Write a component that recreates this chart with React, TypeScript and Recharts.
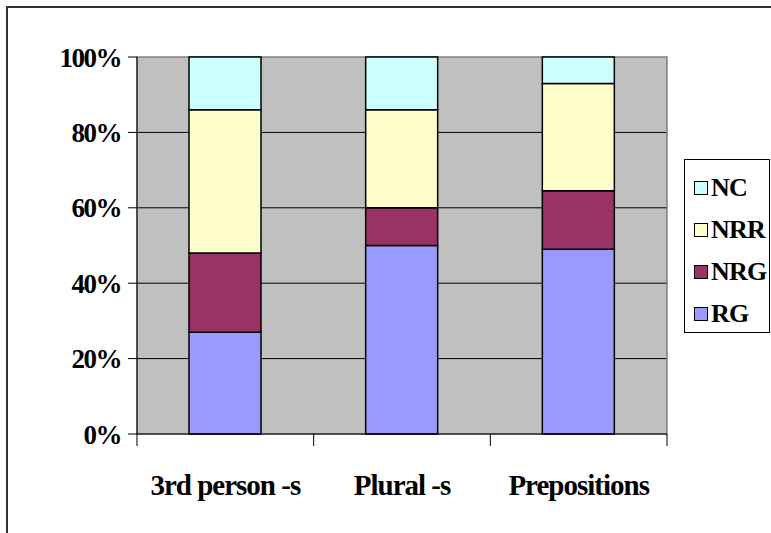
import React from 'react';
import { BarChart, Bar, XAxis, YAxis, CartesianGrid, Legend, ReferenceArea } from 'recharts';

const categories = ['3rd person -s', 'Plural -s', 'Prepositions'];
const rgValues = [27, 50, 49];
const nrgValues = [21, 10, 15.5];
const nrrValues = [38, 26, 28.5];
const ncValues = [14, 14, 7];
const yTicks = [0, 20, 40, 60, 80, 100];
const legendOrder = ['NC', 'NRR', 'NRG', 'RG'];

const series = [
  { key: 'RG', values: rgValues, color: '#9999FF' },
  { key: 'NRG', values: nrgValues, color: '#993366' },
  { key: 'NRR', values: nrrValues, color: '#FFFFCC' },
  { key: 'NC', values: ncValues, color: '#CCFFFF' },
];

const data = categories.map((name, i) => {
  const row: Record<string, string | number> = { name };
  series.forEach((s) => {
    row[s.key] = s.values[i];
  });
  return row;
});

const FONT = '"Liberation Serif", "Times New Roman", serif';

// category label plus tick marks on the band edges (Excel style)
const CategoryTick = (props: any) => {
  const { x, y, payload, index, visibleTicksCount } = props;
  const half = payload?.offset ?? 0;
  const isLast = index === visibleTicksCount - 1;
  return (
    <g>
      <line x1={x - half} x2={x - half} y1={y} y2={y + 12} stroke="#000" />
      {isLast && <line x1={x + half} x2={x + half} y1={y} y2={y + 12} stroke="#000" />}
      <text
        x={x}
        y={y + 61}
        textAnchor="middle"
        fill="#000"
        fontFamily={FONT}
        fontWeight="bold"
        fontSize={29}
        letterSpacing={-1}
      >
        {payload.value}
      </text>
    </g>
  );
};

const LegendBox = (props: any) => {
  const items = [...(props.payload || [])].sort(
    (a: any, b: any) => legendOrder.indexOf(a.value) - legendOrder.indexOf(b.value)
  );
  return (
    <div
      style={{
        border: '1px solid #000',
        background: '#fff',
        width: 86,
        height: 174,
        boxSizing: 'border-box',
        paddingTop: 7,
        fontFamily: FONT,
        fontWeight: 'bold',
        fontSize: 26,
        color: '#000',
      }}
    >
      {items.map((item: any) => (
        <div key={item.value} style={{ height: 42, display: 'flex', alignItems: 'center', paddingLeft: 9 }}>
          <span
            style={{
              display: 'inline-block',
              width: 12,
              height: 12,
              background: item.color,
              border: '1px solid #000',
              marginRight: 3,
              flexShrink: 0,
            }}
          />
          <span style={{ letterSpacing: -0.8, lineHeight: 1 }}>{item.value}</span>
        </div>
      ))}
    </div>
  );
};

export default function App() {
  return (
    <div style={{ position: 'absolute', left: 0, top: 0, width: 771, height: 533, overflow: 'hidden', background: '#fff' }}>
      <div
        style={{
          position: 'absolute',
          left: 6,
          top: 6,
          width: 800,
          height: 600,
          borderTop: '2px solid #333',
          borderLeft: '2px solid #333',
        }}
      />
      <div style={{ position: 'absolute', left: 0, top: 0 }}>
        <BarChart
          width={771}
          height={533}
          data={data}
          margin={{ top: 57, right: 104, bottom: 39, left: 0 }}
        >
          <CartesianGrid
            vertical={false}
            horizontalValues={[20, 40, 60, 80]}
            stroke="#000"
            fill="#C0C0C0"
            fillOpacity={1}
          />
          <ReferenceArea y1={0} y2={100} fill="none" stroke="#808080" strokeWidth={1.5} ifOverflow="visible" />
          <XAxis
            dataKey="name"
            stroke="#000"
            tickLine={false}
            tickSize={0}
            tickMargin={0}
            height={60}
            interval={0}
            tick={<CategoryTick />}
          />
          <YAxis
            width={137}
            domain={[0, 100]}
            ticks={yTicks}
            tickSize={9}
            tickMargin={7}
            stroke="#000"
            tickFormatter={(v) => `${v}%`}
            tick={{ fill: '#000', fontFamily: FONT, fontWeight: 'bold', fontSize: 27, letterSpacing: -1.5 }}
          />
          <Legend
            layout="horizontal"
            align="center"
            verticalAlign="middle"
            content={<LegendBox />}
            wrapperStyle={{ left: 684, top: 159, width: 86, height: 174 }}
          />
          {series.map((s) => (
            <Bar
              key={s.key}
              dataKey={s.key}
              name={s.key}
              stackId="a"
              fill={s.color}
              stroke="#000"
              strokeWidth={1.5}
              barSize={72}
              isAnimationActive={false}
            />
          ))}
        </BarChart>
      </div>
    </div>
  );
}
